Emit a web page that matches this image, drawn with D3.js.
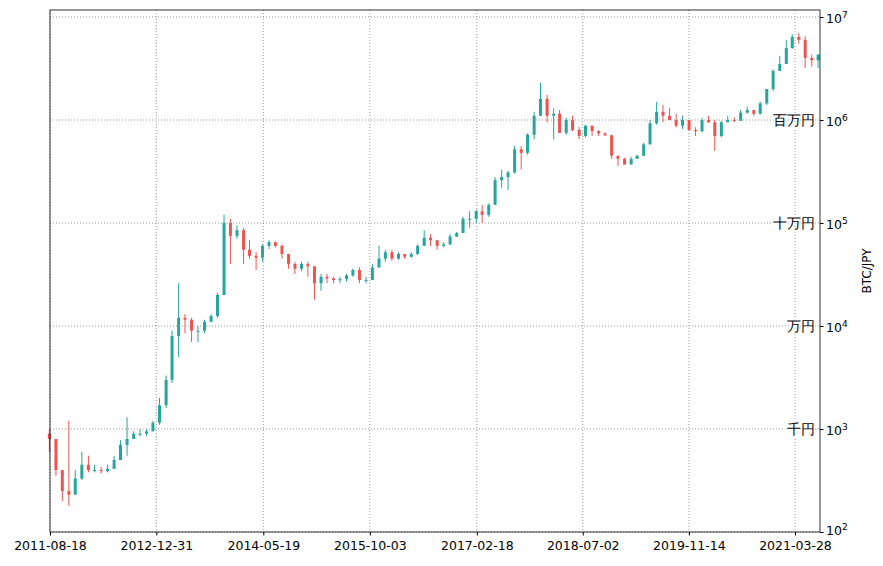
<!DOCTYPE html>
<html><head><meta charset="utf-8">
<script src="https://cdn.jsdelivr.net/npm/d3@7"></script>
<style>body{margin:0;background:#fff}text{font-family:"DejaVu Sans",sans-serif}</style>
</head><body><svg id="c" width="883" height="566"></svg>
<script>
// monthly candles, 2011-08 .. 2021-07 (JPY)
const closes = [
  800, 400, 250, 230, 330,
  450, 400, 400, 390, 410, 500, 700, 800, 900, 900, 950, 1150,
  1700, 3000, 8000, 12000, 11500, 9000, 9000, 11000, 12500, 20000, 100000, 75000,
  85000, 55000, 48000, 46000, 60000, 65000, 60000, 50000, 40000, 36000, 40000, 38000,
  26000, 30000, 29000, 28000, 28500, 31000, 35000, 28000, 28000, 37000, 45000, 52000,
  45000, 50000, 47000, 50000, 60000, 72000, 68000, 60000, 62000, 74000, 80000, 110000,
  110000, 130000, 120000, 150000, 260000, 280000, 310000, 520000, 480000, 720000, 1100000, 1600000,
  1100000, 1150000, 750000, 1000000, 800000, 700000, 880000, 780000, 740000, 710000, 450000, 420000,
  370000, 420000, 450000, 580000, 930000, 1200000, 1100000, 1000000, 880000, 1000000, 800000, 780000,
  1000000, 950000, 700000, 950000, 1000000, 980000, 1180000, 1250000, 1150000, 1450000, 2000000, 3000000,
  3500000, 5000000, 6400000, 6000000, 4000000, 3800000, 4300000
];
const highs = [
  1000, 800, 400, 1200, 400,
  600, 550, 450, 430, 450, 550, 780, 1300, 950, 1000, 1000, 1200,
  2000, 3300, 9000, 26000, 13000, 12000, 10000, 11500, 13000, 21000, 120000, 110000,
  95000, 90000, 68000, 52000, 62000, 68000, 66000, 62000, 50000, 42000, 42000, 42000,
  36000, 32000, 32000, 30000, 30000, 32000, 36000, 37000, 30000, 40000, 60000, 55000,
  55000, 52000, 50000, 52000, 62000, 85000, 78000, 68000, 65000, 78000, 82000, 115000,
  130000, 135000, 150000, 155000, 280000, 330000, 320000, 560000, 560000, 740000, 1200000, 2300000,
  1750000, 1300000, 1250000, 1050000, 1100000, 850000, 900000, 880000, 800000, 760000, 720000, 450000,
  430000, 440000, 460000, 600000, 1000000, 1500000, 1400000, 1300000, 1150000, 1100000, 1000000, 850000,
  1050000, 1100000, 1000000, 980000, 1100000, 1060000, 1250000, 1350000, 1250000, 1500000, 2000000, 3100000,
  4200000, 6000000, 6800000, 7000000, 6500000, 4300000, 4400000
];
const lows = [
  600, 350, 200, 180, 250,
  320, 380, 380, 370, 380, 420, 500, 550, 800, 850, 850, 950,
  1100, 1600, 2800, 5000, 8500, 7000, 7000, 8500, 11000, 12000, 20000, 40000,
  70000, 40000, 45000, 35000, 42000, 56000, 58000, 45000, 36000, 32000, 34000, 30000,
  18000, 22000, 26000, 26000, 26000, 27000, 30000, 26000, 26000, 28000, 37000, 42000,
  43000, 44000, 45000, 46000, 49000, 60000, 60000, 55000, 58000, 61000, 73000, 80000,
  90000, 100000, 100000, 115000, 150000, 220000, 210000, 300000, 330000, 460000, 650000, 1100000,
  950000, 650000, 750000, 720000, 780000, 650000, 680000, 700000, 700000, 700000, 420000, 360000,
  370000, 370000, 420000, 450000, 580000, 900000, 950000, 1000000, 850000, 820000, 780000, 700000,
  760000, 940000, 500000, 680000, 950000, 950000, 980000, 1150000, 1100000, 1130000, 1400000, 1900000,
  3000000, 3500000, 4900000, 5500000, 3200000, 3300000, 3200000
];
const firstOpen = 900;
const xTickLabels = ["2011-08-18", "2012-12-31", "2014-05-19", "2015-10-03",
  "2017-02-18", "2018-07-02", "2019-11-14", "2021-03-28"];
const yenLabels = [[1e3, "千円"], [1e4, "万円"], [1e5, "十万円"], [1e6, "百万円"]];
const yTicks = [1e2, 1e3, 1e4, 1e5, 1e6, 1e7];

const parse = d3.utcParse("%Y-%m-%d");
const candles = closes.map((c, i) => ({
  date: new Date(Date.UTC(2011, 7 + i, 15)),
  open: i ? closes[i - 1] : firstOpen, close: c, high: highs[i], low: lows[i]
}));

const svg = d3.select("#c");
const L = 50, R = 820, T = 10, B = 532;
const xTicks = xTickLabels.map(parse);
const t0 = +xTicks[0], t1 = +xTicks[xTicks.length - 1];
const msPerPx = (t1 - t0) / (795 - L);
const x = d3.scaleUtc().domain([new Date(t0), new Date(t0 + msPerPx * (R - L))]).range([L, R]);
const y = d3.scaleLog().domain([100, Math.pow(10, 7 + 7 / 103)]).range([B, T]);

// grid
svg.append("g").selectAll("line").data(xTicks).join("line")
  .attr("x1", d => x(d)).attr("x2", d => x(d)).attr("y1", T).attr("y2", B)
  .attr("stroke", "#808080").attr("stroke-width", 0.8).attr("stroke-dasharray", "1,2");
svg.append("g").selectAll("line").data(yTicks).join("line")
  .attr("x1", L).attr("x2", R).attr("y1", d => y(d)).attr("y2", d => y(d))
  .attr("stroke", "#808080").attr("stroke-width", 0.8).attr("stroke-dasharray", "1,2");

// candles
const g = svg.append("g");
const col = d => d.close >= d.open ? "#26a69a" : "#ef5350";
g.selectAll("line").data(candles).join("line")
  .attr("x1", d => x(d.date)).attr("x2", d => x(d.date))
  .attr("y1", d => y(d.high)).attr("y2", d => y(d.low))
  .attr("stroke", col).attr("stroke-width", 1);
g.selectAll("rect").data(candles).join("rect")
  .attr("x", d => x(d.date) - 1.5).attr("width", 3)
  .attr("y", d => y(Math.max(d.open, d.close)))
  .attr("height", d => Math.max(1, Math.abs(y(d.open) - y(d.close))))
  .attr("fill", col);

// frame
svg.append("rect").attr("x", L).attr("y", T).attr("width", R - L).attr("height", B - T)
  .attr("fill", "none").attr("stroke", "#000").attr("stroke-width", 0.8);

// x axis
const xa = svg.append("g").attr("transform", `translate(0,${B})`)
  .call(d3.axisBottom(x).tickValues(xTicks).tickFormat(d3.utcFormat("%Y-%m-%d")).tickSizeOuter(0).tickSize(3.5));
xa.select(".domain").remove();
xa.selectAll("text").attr("font-size", 12.5).attr("font-family", "DejaVu Sans").attr("dy", "0.9em").attr("fill", "#000");

// y axis (right)
const ya = svg.append("g").attr("transform", `translate(${R},0)`)
  .call(d3.axisRight(y).tickValues(yTicks).tickFormat("").tickSize(3.5));
ya.select(".domain").remove();
ya.selectAll(".tick").append("text")
  .attr("x", 6).attr("dy", d => d === 1e2 ? "0.2em" : "0.45em").attr("fill", "#000").attr("font-size", 12.5)
  .attr("font-family", "DejaVu Sans")
  .each(function(d) {
    const t = d3.select(this);
    t.append("tspan").text("10");
    t.append("tspan").attr("font-size", 9).attr("dy", "-0.6em").text(Math.round(Math.log10(d)));
  });
svg.append("text").attr("transform", `translate(871,${(T + B) / 2}) rotate(-90)`)
  .attr("text-anchor", "middle").attr("font-size", 12).text("BTC/JPY");

// yen labels
svg.append("g").selectAll("text").data(yenLabels).join("text")
  .attr("x", 815).attr("y", d => y(d[0])).attr("dy", "0.35em").attr("text-anchor", "end")
  .attr("font-size", 14).attr("font-family", "Noto Sans CJK JP")
  .attr("stroke", "#fff").attr("stroke-width", 3).attr("paint-order", "stroke")
  .text(d => d[1]);
</script></body></html>
